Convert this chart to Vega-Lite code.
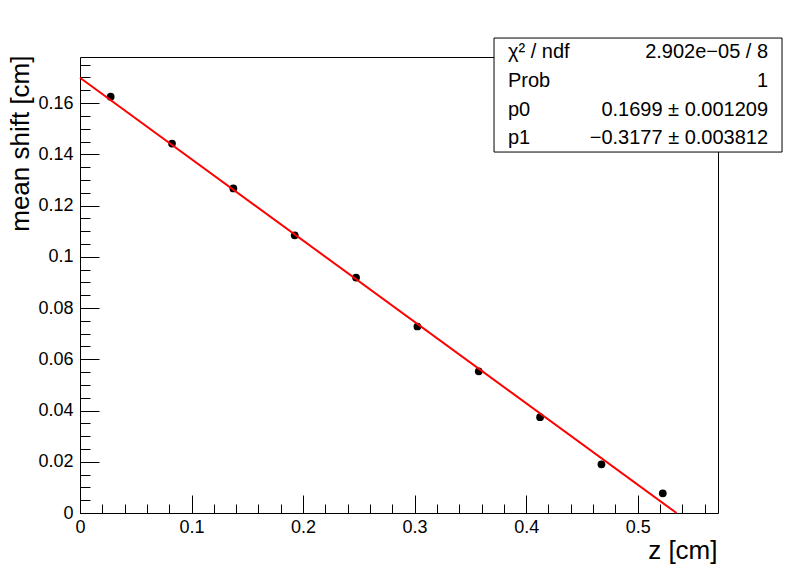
{
  "$schema": "https://vega.github.io/schema/vega-lite/v6.json",
  "width": 638,
  "height": 456,
  "autosize": "none",
  "padding": {"left": 80, "top": 57, "right": 80, "bottom": 58},
  "background": "white",
  "config": {"view": {"stroke": null}, "font": "Liberation Sans"},
  "datasets": {
    "points": [
      {"z": 0.0275, "shift": 0.1625},
      {"z": 0.0825, "shift": 0.1442},
      {"z": 0.1375, "shift": 0.1267},
      {"z": 0.1925, "shift": 0.1084},
      {"z": 0.2475, "shift": 0.0919},
      {"z": 0.3025, "shift": 0.0728},
      {"z": 0.3575, "shift": 0.0553},
      {"z": 0.4125, "shift": 0.0374},
      {"z": 0.4675, "shift": 0.0190},
      {"z": 0.5225, "shift": 0.0077}
    ],
    "fit": [
      {"z": 0, "shift": 0.1699},
      {"z": 0.5348, "shift": 0}
    ],
    "box": [{"x1": 0.3712, "x2": 0.6294, "y1": 0.1409, "y2": 0.1854}],
    "stats": [
      {"label": "χ² / ndf", "value": "2.902e−05 / 8", "yy": 0.1800, "xl": 0.3837, "xr": 0.6169},
      {"label": "Prob", "value": "1", "yy": 0.1687, "xl": 0.3837, "xr": 0.6169},
      {"label": "p0", "value": "0.1699 ± 0.001209", "yy": 0.1575, "xl": 0.3837, "xr": 0.6169},
      {"label": "p1", "value": "−0.3177 ± 0.003812", "yy": 0.1464, "xl": 0.3837, "xr": 0.6169}
    ]
  },
  "layer": [
    {
      "data": {"name": "points"},
      "mark": {"type": "circle", "size": 60, "color": "black", "opacity": 1},
      "encoding": {
        "x": {
          "field": "z", "type": "quantitative",
          "scale": {"domain": [0, 0.572], "nice": false, "zero": false},
          "axis": {
            "orient": "bottom", "values": [0, 0.1, 0.2, 0.3, 0.4, 0.5], "format": "~g",
            "tickSize": -18, "tickColor": "black", "domainColor": "black",
            "labelFontSize": 18, "labelColor": "black", "labelPadding": 23,
            "labelFlush": false, "labelOverlap": false, "grid": false,
            "title": "z [cm]", "titleFontSize": 26, "titleFontWeight": "normal", "titleColor": "black",
            "titleAnchor": "end", "titleAlign": "right", "titleX": 637, "titleY": 45, "titleBaseline": "alphabetic"
          }
        },
        "y": {
          "field": "shift", "type": "quantitative",
          "scale": {"domain": [0, 0.178], "nice": false, "zero": false},
          "axis": {
            "orient": "left", "values": [0, 0.02, 0.04, 0.06, 0.08, 0.1, 0.12, 0.14, 0.16], "format": "~g",
            "tickSize": -19, "tickColor": "black", "domainColor": "black",
            "labelFontSize": 18, "labelColor": "black", "labelPadding": 26,
            "labelFlush": false, "labelOverlap": false, "grid": false,
            "title": "mean shift [cm]", "titleFontSize": 26, "titleFontWeight": "normal", "titleColor": "black",
            "titleAnchor": "end", "titleAlign": "right", "titleAngle": -90, "titleX": -52, "titleY": -2, "titleBaseline": "alphabetic"
          }
        }
      }
    },
    {
      "data": {"name": "fit"},
      "mark": {"type": "line", "color": "#ff0000", "strokeWidth": 2},
      "encoding": {
        "x": {
          "field": "z", "type": "quantitative",
          "scale": {"domain": [0, 0.572], "nice": false, "zero": false},
          "axis": {
            "orient": "bottom",
            "values": [0.02, 0.04, 0.06, 0.08, 0.12, 0.14, 0.16, 0.18, 0.22, 0.24, 0.26, 0.28, 0.32, 0.34, 0.36, 0.38, 0.42, 0.44, 0.46, 0.48, 0.52, 0.54, 0.56],
            "tickSize": -9, "tickColor": "black", "domain": false, "labels": false, "grid": false, "title": null
          }
        },
        "y": {
          "field": "shift", "type": "quantitative",
          "scale": {"domain": [0, 0.178], "nice": false, "zero": false},
          "axis": {
            "orient": "left",
            "values": [0.005, 0.01, 0.015, 0.025, 0.03, 0.035, 0.045, 0.05, 0.055, 0.065, 0.07, 0.075, 0.085, 0.09, 0.095, 0.105, 0.11, 0.115, 0.125, 0.13, 0.135, 0.145, 0.15, 0.155, 0.165, 0.17, 0.175],
            "tickSize": -10, "tickColor": "black", "domain": false, "labels": false, "grid": false, "title": null
          }
        }
      }
    },
    {
      "data": {"name": "box"},
      "mark": {"type": "rect", "fill": "white", "stroke": "black", "strokeWidth": 1},
      "encoding": {
        "x": {
          "field": "x1", "type": "quantitative",
          "scale": {"domain": [0, 0.572], "nice": false, "zero": false},
          "axis": {"orient": "top", "ticks": false, "labels": false, "grid": false, "title": null, "domainColor": "black"}
        },
        "x2": {"field": "x2"},
        "y": {
          "field": "y1", "type": "quantitative",
          "scale": {"domain": [0, 0.178], "nice": false, "zero": false},
          "axis": {"orient": "right", "ticks": false, "labels": false, "grid": false, "title": null, "domainColor": "black"}
        },
        "y2": {"field": "y2"}
      }
    },
    {
      "data": {"name": "stats"},
      "mark": {"type": "text", "align": "left", "baseline": "middle", "fontSize": 20, "color": "black"},
      "encoding": {
        "x": {"field": "xl", "type": "quantitative", "axis": null},
        "y": {"field": "yy", "type": "quantitative", "axis": null},
        "text": {"field": "label"}
      }
    },
    {
      "data": {"name": "stats"},
      "mark": {"type": "text", "align": "right", "baseline": "middle", "fontSize": 20, "color": "black"},
      "encoding": {
        "x": {"field": "xr", "type": "quantitative", "axis": null},
        "y": {"field": "yy", "type": "quantitative", "axis": null},
        "text": {"field": "value"}
      }
    }
  ],
  "resolve": {"axis": {"x": "independent", "y": "independent"}}
}
